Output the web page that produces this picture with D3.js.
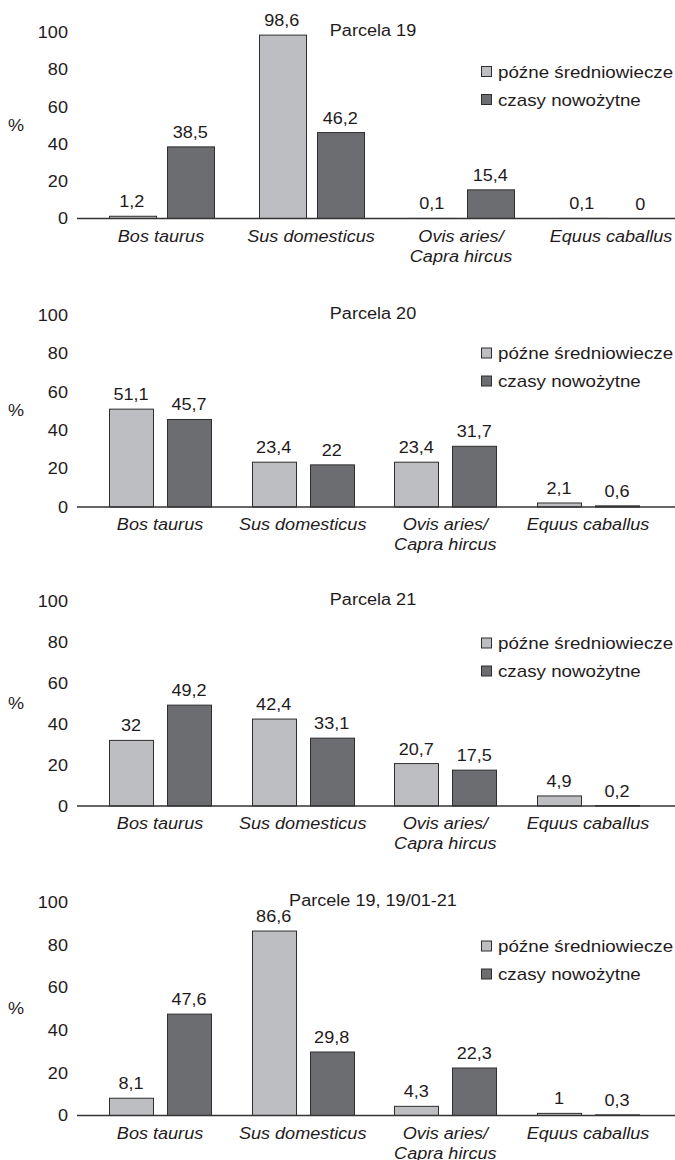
<!DOCTYPE html>
<html>
<head>
<meta charset="utf-8">
<script src="https://cdn.jsdelivr.net/npm/d3@7"></script>
<style>
	body { margin: 0; background: #fff; }
	svg { display: block; }
	text { font-family: "Liberation Sans", Arial, sans-serif; fill: #1f1b1c; }
</style>
</head>
<body>
<svg id="svg_main" width="675" height="1160"></svg>
<script>
// data
var categories = ["Bos taurus", "Sus domesticus", "Ovis aries/Capra hircus", "Equus caballus"];
var catLines = [["Bos taurus"], ["Sus domesticus"], ["Ovis aries/", "Capra hircus"], ["Equus caballus"]];
var series = ["późne średniowiecze", "czasy nowożytne"];
var titles = ["Parcela 19", "Parcela 20", "Parcela 21", "Parcele 19, 19/01-21"];
var lateMedieval = [
	[1.2, 98.6, 0.1, 0.1],
	[51.1, 23.4, 23.4, 2.1],
	[32, 42.4, 20.7, 4.9],
	[8.1, 86.6, 4.3, 1]
];
var modern = [
	[38.5, 46.2, 15.4, 0],
	[45.7, 22, 31.7, 0.6],
	[49.2, 33.1, 17.5, 0.2],
	[47.6, 29.8, 22.3, 0.3]
];
var yTicks = [0, 20, 40, 60, 80, 100];

// layout of the four panels (pixels)
var panels = [
	{ y0: 218.5, y100: 32.5, x: [86, 686], barW: 46.5, gap: 12, leg: 71.5 },
	{ y0: 507, y100: 315.5, x: [88.7, 659.3], barW: 44, gap: 14, leg: 353 },
	{ y0: 806, y100: 601, x: [88.7, 659.3], barW: 44, gap: 14, leg: 643 },
	{ y0: 1115.5, y100: 902.5, x: [88.7, 659.3], barW: 44, gap: 14, leg: 946 }
];

var SX = 1.13, FS = 16;
var colors = { "późne średniowiecze": "#bdbec1", "czasy nowożytne": "#6c6d71" };
var stroke = "#2e2e2e";

var svg = d3.select("#svg_main");

function txt(g, x, y, s, anchor, italic, size) {
	return g.append("text")
		.attr("transform", `translate(${x},${y}) scale(${SX},1)`)
		.attr("text-anchor", anchor || "middle")
		.style("font-size", (size || FS) + "px")
		.style("font-style", italic ? "italic" : null)
		.text(s);
}

function fmt(v) { return String(v).replace(".", ","); }

panels.forEach((p, i) => {
	var g = svg.append("g").attr("class", "panel");

	var y = d3.scaleLinear().domain([0, 100]).range([p.y0, p.y100]);
	var x0 = d3.scaleBand().domain(categories).range(p.x);
	var pair = 2 * p.barW + p.gap;
	var x1 = d3.scaleBand().domain(series).range([-pair / 2, pair / 2])
		.paddingInner(p.gap / (p.barW + p.gap));

	var yAxis = d3.axisLeft(y).tickValues(yTicks).tickSize(0).tickPadding(8);
	var ax = g.append("g")
		.attr("transform", "translate(77,0)")
		.call(yAxis);
	ax.select(".domain").remove();
	ax.selectAll("text")
		.attr("transform", `scale(${SX},1)`)
		.style("font-size", FS + "px")
		.style("font-family", '"Liberation Sans", Arial, sans-serif')
		.attr("fill", "#1f1b1c");

	txt(g, 16, (p.y0 + p.y100) / 2 + 5, "%");
	txt(g, 373, p.y100 + 3.5, titles[i]);

	var rows = [];
	categories.forEach((c, j) => {
		rows.push({ cat: c, s: series[0], v: lateMedieval[i][j] });
		rows.push({ cat: c, s: series[1], v: modern[i][j] });
	});

	g.selectAll(".bar")
		.data(rows)
		.enter().append("rect")
		.attr("class", "bar")
		.attr("x", d => Math.round(x0(d.cat) + x0.bandwidth() / 2 + x1(d.s)) + 0.5)
		.attr("width", Math.round(x1.bandwidth()))
		.attr("y", d => y(d.v))
		.attr("height", d => p.y0 - y(d.v))
		.attr("fill", d => colors[d.s])
		.attr("stroke", d => (p.y0 - y(d.v)) < 1.5 ? (d.s == series[0] ? "#a9aaad" : "#333") : stroke)
		.attr("stroke-width", 1);

	rows.forEach(d => {
		var cx = x0(d.cat) + x0.bandwidth() / 2 + x1(d.s) + x1.bandwidth() / 2;
		txt(g, cx, y(d.v) - 9, fmt(d.v));
	});

	g.append("line")
		.attr("x1", 77).attr("x2", 675)
		.attr("y1", p.y0).attr("y2", p.y0)
		.attr("stroke", "#333")
		.attr("stroke-width", 1.3);

	categories.forEach((c, j) => {
		var cx = x0(c) + x0.bandwidth() / 2;
		catLines[j].forEach((line, k) => {
			txt(g, cx, p.y0 + 23 + k * 20, line, "middle", true);
		});
	});

	series.forEach((s, k) => {
		var cy = p.leg + k * 28;
		g.append("rect")
			.attr("x", 481.5).attr("y", cy - 5)
			.attr("width", 10).attr("height", 10)
			.attr("fill", colors[s])
			.attr("stroke", stroke)
			.attr("stroke-width", 1);
		txt(g, 498, cy + 6, s, "start", false, 16.6);
	});
});
</script>
</body>
</html>
